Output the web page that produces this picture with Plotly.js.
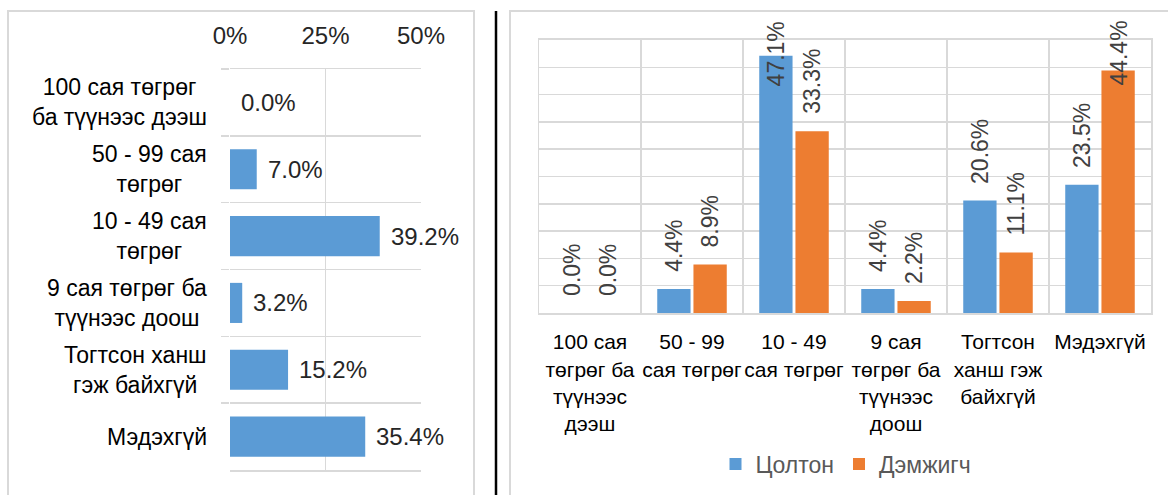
<!DOCTYPE html>
<html>
<head>
<meta charset="utf-8">
<script src="https://cdn.plot.ly/plotly-3.0.1.min.js"></script>
<style>html,body{margin:0;padding:0;background:#fff;}</style>
</head>
<body>
<div id="chart" style="width:1168px;height:495px;"></div>
<script>
// ---- data ----
const leftCategories = ["100 сая төгрөг<br>ба түүнээс дээш", "50 - 99 сая<br>төгрөг", "10 - 49 сая<br>төгрөг", "9 сая төгрөг ба<br>түүнээс доош", "Тогтсон ханш<br>гэж байхгүй", "Мэдэхгүй"];
const leftValues = [0.0, 7.0, 39.2, 3.2, 15.2, 35.4];
const leftTickVals = [0, 25, 50];
const leftTickText = ["0%", "25%", "50%"];

const rightCategories = ["100 сая<br>төгрөг ба<br>түүнээс<br>дээш", "50 - 99<br>сая төгрөг", "10 - 49<br>сая төгрөг", "9 сая<br>төгрөг ба<br>түүнээс<br>доош", "Тогтсон<br>ханш гэж<br>байхгүй", "Мэдэхгүй"];
const seriesNames = ["Цолтон", "Дэмжигч"];
const tsoltonValues = [0.0, 4.4, 47.1, 4.4, 20.6, 23.5];
const demjigchValues = [0.0, 8.9, 33.3, 2.2, 11.1, 44.4];

// ---- layout helpers ----
const W = 1168, H = 495;
const px = v => v / W;
const py = v => 1 - v / H;
const FONT = "Liberation Sans, Arial, sans-serif";
const GRID = "#d9d9d9";
const BLUE = "#5b9bd5", ORANGE = "#ed7d31";

const bargap = 0.29, bargroupgap = 0.08;
const rightRange = [0, 50];
const rightDomainPx = [40, 313];

const traces = [
  {type: "bar", orientation: "h", x: leftValues, y: leftCategories, xaxis: "x", yaxis: "y",
   marker: {color: BLUE}, width: 0.6, showlegend: false, hoverinfo: "skip"},
  {type: "bar", name: seriesNames[0], x: rightCategories, y: tsoltonValues, xaxis: "x2", yaxis: "y2",
   marker: {color: BLUE}, hoverinfo: "skip"},
  {type: "bar", name: seriesNames[1], x: rightCategories, y: demjigchValues, xaxis: "x2", yaxis: "y2",
   marker: {color: ORANGE}, hoverinfo: "skip"}
];

const annotations = [];
// left value labels
leftValues.forEach((v, i) => {
  annotations.push({x: v, y: leftCategories[i], xref: "x", yref: "y", text: v.toFixed(1) + "%",
    showarrow: false, xanchor: "left", yanchor: "middle", xshift: 9,
    font: {family: FONT, size: 24, color: "#262626"}});
});
// left category labels (centered lines, right-aligned block)
leftCategories.forEach((c, i) => {
  annotations.push({x: px(209), y: c, xref: "paper", yref: "y", text: c, showarrow: false,
    xanchor: "right", yanchor: "middle", align: "center",
    font: {family: FONT, size: 23, color: "#000000"}});
});
// right value labels (rotated)
const pxPerUnit = (rightDomainPx[1] - rightDomainPx[0]) / (rightRange[1] - rightRange[0]);
const offset = (1 - bargap) / 4;
const labelGap = 15, labelLen = 72, topLimitPx = 19;
[tsoltonValues, demjigchValues].forEach((vals, s) => {
  vals.forEach((v, i) => {
    const xpos = i + (s === 0 ? -offset : offset);
    const topPx = rightDomainPx[1] - v * pxPerUnit - labelGap - labelLen;
    const base = {x: xpos, xref: "x2", text: v.toFixed(1) + "%", showarrow: false, textangle: -90,
      xanchor: "center", font: {family: FONT, size: 23, color: "#404040"}};
    if (topPx < topLimitPx) {
      annotations.push(Object.assign(base, {y: py(topLimitPx), yref: "paper", yanchor: "top"}));
    } else {
      annotations.push(Object.assign(base, {y: v, yref: "y2", yanchor: "bottom", yshift: labelGap}));
    }
  });
});

const shapes = [
  {type: "rect", xref: "paper", yref: "paper", x0: px(8), x1: px(474), y0: -0.2, y1: py(11),
   line: {color: GRID, width: 2}, layer: "below"},
  {type: "rect", xref: "paper", yref: "paper", x0: px(510), x1: 1.2, y0: -0.2, y1: py(11),
   line: {color: GRID, width: 2}, layer: "below"},
  {type: "line", xref: "paper", yref: "paper", x0: px(496), x1: px(496), y0: -0.1, y1: py(11),
   line: {color: "#000000", width: 2.5}}
];

const layout = {
  width: W, height: H, margin: {l: 0, r: 0, t: 0, b: 0},
  paper_bgcolor: "#ffffff", plot_bgcolor: "rgba(0,0,0,0)",
  font: {family: FONT, color: "#000"},
  barmode: "group", bargap: bargap, bargroupgap: bargroupgap,
  xaxis: {domain: [px(230), px(421)], range: [0, 50], side: "top", tickvals: leftTickVals, ticktext: leftTickText,
    showgrid: true, gridcolor: GRID, gridwidth: 1.5, zeroline: false,
    showline: true, mirror: true, linecolor: GRID, linewidth: 1.5, ticks: "",
    tickfont: {family: FONT, size: 24, color: "#262626"}, ticklabelstandoff: 14, anchor: "y", fixedrange: true},
  yaxis: {domain: [py(470), py(69)], type: "category", autorange: "reversed", tickson: "boundaries",
    showgrid: true, gridcolor: GRID, gridwidth: 1.5, ticks: "outside", ticklen: 8, tickcolor: GRID, tickwidth: 1.5,
    showticklabels: false, zeroline: false, showline: false, anchor: "x", fixedrange: true},
  xaxis2: {domain: [px(539), px(1151)], type: "category", tickson: "boundaries", showgrid: true,
    gridcolor: GRID, gridwidth: 1.5, ticks: "", showline: true, mirror: true, linecolor: GRID, linewidth: 2,
    tickfont: {family: FONT, size: 21, color: "#000"}, ticklabelstandoff: 9, tickangle: 0, anchor: "y2", fixedrange: true},
  yaxis2: {domain: [py(rightDomainPx[1]), py(rightDomainPx[0])], range: rightRange, dtick: 5, showgrid: true,
    gridcolor: GRID, gridwidth: 1.5, showticklabels: false, zeroline: false, ticks: "",
    showline: true, mirror: true, linecolor: GRID, linewidth: 1.5, anchor: "x2", fixedrange: true},
  legend: {orientation: "h", x: px(846), xanchor: "center", y: py(464), yanchor: "middle",
    font: {family: FONT, size: 23, color: "#595959"}, itemwidth: 30, tracegroupgap: 0, bgcolor: "rgba(0,0,0,0)"},
  annotations: annotations,
  shapes: shapes
};

Plotly.newPlot("chart", traces, layout, {displayModeBar: false, staticPlot: true});
</script>
</body>
</html>
